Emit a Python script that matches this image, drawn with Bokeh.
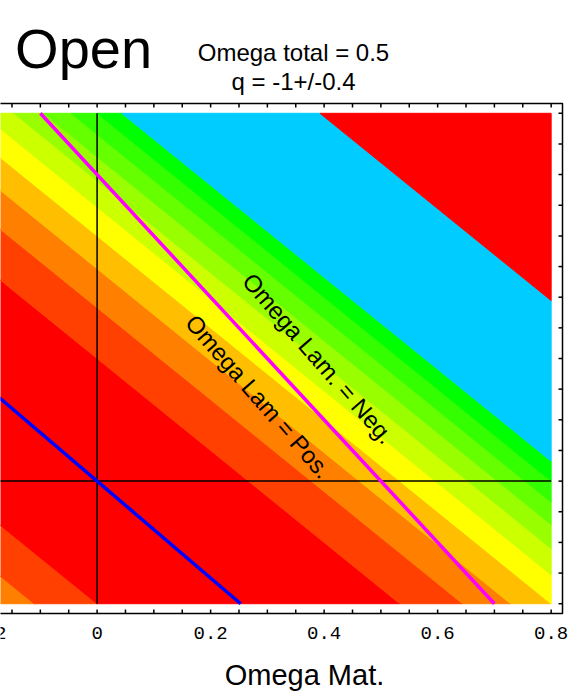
from bokeh.plotting import figure
from bokeh.models import Range1d, ColumnDataSource
from bokeh.core.properties import value
from bokeh.embed import file_html
from bokeh.resources import INLINE

# ---------------- data ----------------
x_domain = [-0.2, 0.8]          # Omega Mat. extent of the coloured map
y_domain = [-0.2, 0.6]          # vertical extent of the coloured map
# contour field direction: q = 1.5*Om + 2*y - 0.5
q_coef = [1.5, 2.0, -0.5]
# band limits in q (lower, upper) and colour of each band
band_lo = [-9.0, -1.066, -0.9, -0.1, 0.066, 0.193, 0.300, 0.394, 0.480, 0.558, 0.631, 0.700, 0.765, 1.289]
band_hi = [-1.066, -0.9, -0.1, 0.066, 0.193, 0.300, 0.394, 0.480, 0.558, 0.631, 0.700, 0.765, 1.289, 9.0]
band_colors = ["#FF8000", "#FF4000", "#FF0000", "#FF4000", "#FF8000", "#FFBF00",
               "#FFFF00", "#CCFF00", "#99FF00", "#66FF00", "#33FF00", "#00FF00",
               "#00CCFF", "#FF0000"]

lam_zero_x = [-0.1, 0.7]        # Omega Lam = 0 line (magenta)
lam_zero_y = [0.6, -0.2]
blue_x = [-0.2, 0.253]          # blue line through the origin
blue_y = [0.158, -0.2]
vline_x = [0.0, 0.0]
vline_y = [-0.2, 0.6]
hline_x = [-0.2, 0.8]
hline_y = [0.0, 0.0]

frame_x = [-0.22, 0.82]         # plot frame (with padding round the map)
frame_y = [-0.216, 0.616]

x_ticks = [-0.2, -0.15, -0.1, -0.05, 0.0, 0.05, 0.1, 0.15, 0.2, 0.25, 0.3, 0.35, 0.4,
           0.45, 0.5, 0.55, 0.6, 0.65, 0.7, 0.75, 0.8]
x_tick_labels_at = [-0.2, 0.0, 0.2, 0.4, 0.6, 0.8]
x_tick_labels = ["-0.2", "0", "0.2", "0.4", "0.6", "0.8"]
y_ticks = [-0.2, -0.15, -0.1, -0.05, 0.0, 0.05, 0.1, 0.15, 0.2, 0.25, 0.3, 0.35, 0.4,
           0.45, 0.5, 0.55, 0.6]

title_text = "Open"
subtitle_1 = "Omega total = 0.5"
subtitle_2 = "q = -1+/-0.4"
xlabel_text = "Omega Mat."
neg_text = "Omega Lam. = Neg."
pos_text = "Omega Lam = Pos."


# ---------------- geometry helpers ----------------
def clip(poly, a, b, c):
    """keep the part of a polygon where a*x + b*y + c >= 0"""
    out = []
    n = len(poly)
    for i in range(n):
        p1 = poly[i]
        p2 = poly[(i + 1) % n]
        f1 = a * p1[0] + b * p1[1] + c
        f2 = a * p2[0] + b * p2[1] + c
        if f1 >= 0:
            out.append(p1)
        if (f1 >= 0) != (f2 >= 0):
            t = f1 / (f1 - f2)
            out.append((p1[0] + t * (p2[0] - p1[0]), p1[1] + t * (p2[1] - p1[1])))
    return out


rect = [(x_domain[0], y_domain[0]), (x_domain[1], y_domain[0]),
        (x_domain[1], y_domain[1]), (x_domain[0], y_domain[1])]
a, b, c = q_coef
xs, ys, cols = [], [], []
for lo, hi, col in zip(band_lo, band_hi, band_colors):
    poly = clip(rect, a, b, c - lo)
    poly = clip(poly, -a, -b, hi - c)
    if len(poly) >= 3:
        xs.append([pt[0] for pt in poly])
        ys.append([pt[1] for pt in poly])
        cols.append(col)

src = ColumnDataSource(dict(xs=xs, ys=ys, color=cols))

# ---------------- figure (frame = whole canvas; left edge of the plot is cut off) ----------------
px_x = 567.57    # pixels per unit along x
px_y = 613.0     # pixels per unit along y
x0 = -0.1702
y_top = frame_y[1] + 103 / px_y
p = figure(width=583, height=694, output_backend="svg", toolbar_location=None,
           x_range=Range1d(x0, x0 + 583 / px_x), y_range=Range1d(y_top - 694 / px_y, y_top),
           x_axis_type=None, y_axis_type=None, min_border=0)
p.outline_line_color = None
p.grid.visible = False
p.background_fill_color = "white"
p.border_fill_color = "white"

p.patches("xs", "ys", source=src, fill_color="color", line_color="color", line_width=1)

p.line(vline_x, vline_y, line_color="black", line_width=1.5)
p.line(hline_x, hline_y, line_color="black", line_width=1.5)
p.line(lam_zero_x, lam_zero_y, line_color="#FF00FF", line_width=3.5)
p.line(blue_x, blue_y, line_color="#0000FF", line_width=3.5)

# frame: top, right, bottom
p.line([frame_x[0], frame_x[1], frame_x[1], frame_x[0]],
       [frame_y[1], frame_y[1], frame_y[0], frame_y[0]], line_color="black", line_width=1.5)

# inward ticks (4 px)
p.ray(x=x_ticks, y=[frame_y[0]] * len(x_ticks), length=4, length_units="screen",
      angle=90, angle_units="deg", line_color="black", line_width=1.5)
p.ray(x=x_ticks, y=[frame_y[1]] * len(x_ticks), length=4, length_units="screen",
      angle=-90, angle_units="deg", line_color="black", line_width=1.5)
p.ray(x=[frame_x[1]] * len(y_ticks), y=y_ticks, length=4, length_units="screen",
      angle=180, angle_units="deg", line_color="black", line_width=1.5)

# tick labels
p.text(x=x_tick_labels_at, y=[-0.247] * len(x_tick_labels_at), text=x_tick_labels,
       text_align="center", text_baseline="middle", text_font=value("Liberation Mono"),
       text_font_size="19px", text_color="black")

sans = value("Liberation Sans")
p.text(x=[-0.1445], y=[0.7057], text=[title_text], text_align="left", text_baseline="middle",
       text_font=sans, text_font_size="56px", text_color="black")
p.text(x=[0.346, 0.346], y=[0.6992, 0.6527], text=[subtitle_1, subtitle_2], text_align="center",
       text_baseline="middle", text_font=sans, text_font_size="24px", text_color="black")
p.text(x=[0.3654], y=[-0.3155], text=[xlabel_text], text_align="center", text_baseline="middle",
       text_font=sans, text_font_size="29px", text_color="black")
p.text(x=[0.390, 0.2844], y=[0.200, 0.138], text=[neg_text, pos_text], text_align="center",
       text_baseline="middle", angle=-49, angle_units="deg",
       text_font=sans, text_font_size="24px", text_color="black")

open("out.html", "w").write(file_html(p, INLINE))
